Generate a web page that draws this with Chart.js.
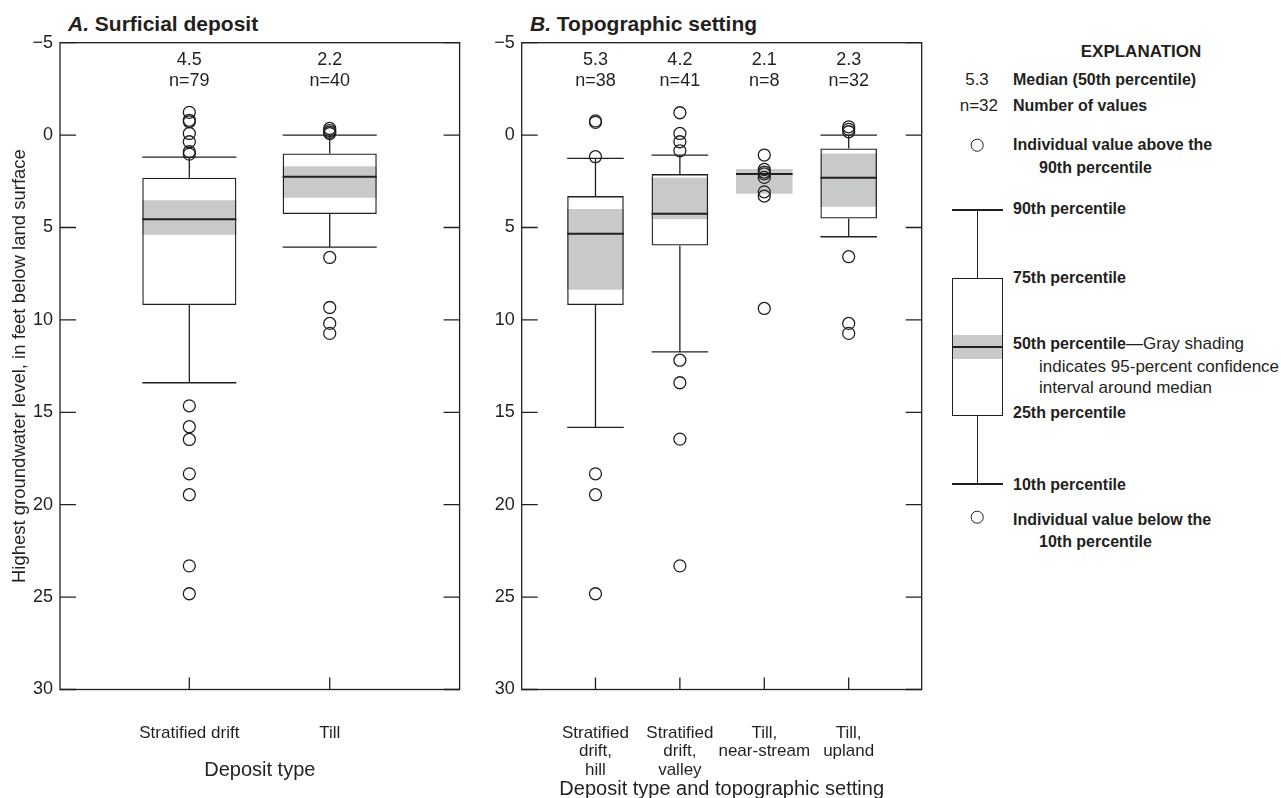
<!DOCTYPE html>
<html>
<head>
<meta charset="utf-8">
<script src="https://cdn.jsdelivr.net/npm/chart.js"></script>
<style>
  html, body { margin: 0; padding: 0; background: #fff; }
  body { width: 1281px; height: 798px; position: relative; overflow: hidden;
         font-family: "Liberation Sans", Arial, sans-serif; color: #231f20; }
  canvas { position: absolute; top: 0; }
  .ttl { position: absolute; top: 13px; font-weight: bold; font-size: 21px; line-height: 21px; white-space: nowrap; }
  .t { position: absolute; white-space: nowrap; line-height: 1.15; font-size: 17px; transform: translateY(-50%); }
  .b { font-weight: bold; font-size: 16px; }
  .ln { position: absolute; background: #231f20; }
  .ring { position: absolute; box-sizing: border-box; width: 12.6px; height: 12.6px;
          border: 1.3px solid #231f20; border-radius: 50%; transform: translate(-50%, -50%); }
</style>
</head>
<body>
<div class="ttl" style="left:68px"><i>A.</i> Surficial deposit</div>
<div class="ttl" style="left:530px"><i>B.</i> Topographic setting</div>

<canvas id="chartA" width="470" height="798" style="left:0"></canvas>
<canvas id="chartB" width="460" height="798" style="left:470px"></canvas>

<!-- explanation -->
<div class="t b" style="left:1141px;top:52px;font-size:17px;transform:translate(-50%,-50%)">EXPLANATION</div>
<div class="t" style="left:977px;top:80px;transform:translate(-50%,-50%)">5.3</div>
<div class="t b" style="left:1013px;top:80px">Median (50th percentile)</div>
<div class="t" style="left:998px;top:106px;transform:translate(-100%,-50%)">n=32</div>
<div class="t b" style="left:1013px;top:106px">Number of values</div>
<div class="ring" style="left:977px;top:145px"></div>
<div class="t b" style="left:1013px;top:145px">Individual value above the</div>
<div class="t b" style="left:1039px;top:168px">90th percentile</div>

<div class="ln" style="left:951.7px;top:209.4px;width:51.6px;height:1.3px"></div>
<div class="t b" style="left:1013px;top:209px">90th percentile</div>
<div class="ln" style="left:976.7px;top:210px;width:1.3px;height:68.5px"></div>
<div style="position:absolute;box-sizing:border-box;left:951.7px;top:278px;width:51.6px;height:137.5px;border:1.3px solid #231f20"></div>
<div style="position:absolute;left:953px;top:335px;width:49px;height:24.3px;background:#c8c9cb"></div>
<div class="ln" style="left:953px;top:345.8px;width:49px;height:2px"></div>
<div class="t b" style="left:1013px;top:278px">75th percentile</div>
<div class="t" style="left:1013px;top:344px"><b style="font-size:16px">50th percentile</b>—Gray shading</div>
<div class="t" style="left:1039px;top:367px">indicates 95-percent confidence</div>
<div class="t" style="left:1039px;top:388px">interval around median</div>
<div class="t b" style="left:1013px;top:413px">25th percentile</div>
<div class="ln" style="left:976.7px;top:415px;width:1.3px;height:69px"></div>
<div class="ln" style="left:951.7px;top:483.4px;width:51.6px;height:1.3px"></div>
<div class="t b" style="left:1013px;top:485px">10th percentile</div>
<div class="ring" style="left:977px;top:517px"></div>
<div class="t b" style="left:1013px;top:520px">Individual value below the</div>
<div class="t b" style="left:1039px;top:542px">10th percentile</div>

<script>
// ---- shared axis ----
const yTicks = [-5, 0, 5, 10, 15, 20, 25, 30];

// ---- A. Surficial deposit (feet below land surface) ----
const catsA = ['Stratified drift', 'Till'];
const countA = [79, 40];
const medLabelA = ['4.5', '2.2'];
const whiskTopA = [1.19, 0.0];
const boxTopA = [2.31, 0.99];
const ciTopA = [3.52, 1.68];
const medianA = [4.55, 2.25];
const ciBotA = [5.39, 3.39];
const boxBotA = [9.2, 4.27];
const whiskBotA = [13.4, 6.06];
const outA = [
  [-1.23, -0.8, -0.72, -0.09, 0.36, 0.9, 1.03, 14.65, 15.78, 16.47, 18.33, 19.46, 23.31, 24.82],
  [-0.36, -0.24, -0.15, -0.08, 6.62, 9.33, 10.19, 10.73]
];

// ---- B. Topographic setting ----
const catsB = [['Stratified', 'drift,', 'hill'], ['Stratified', 'drift,', 'valley'], ['Till,', 'near-stream'], ['Till,', 'upland']];
const countB = [38, 41, 8, 32];
const medLabelB = ['5.3', '4.2', '2.1', '2.3'];
const whiskTopB = [1.26, 1.08, null, 0.0];
const boxTopB = [3.3, 2.11, null, 0.72];
const ciTopB = [4.0, 2.31, 1.84, 0.99];
const medianB = [5.34, 4.26, 2.11, 2.31];
const ciBotB = [8.37, 4.56, 3.18, 3.88];
const boxBotB = [9.2, 5.97, null, 4.51];
const whiskBotB = [15.82, 11.73, null, 5.5];
const outB = [
  [-0.77, -0.69, 1.17, 18.33, 19.46, 24.82],
  [-1.21, -0.09, 0.36, 0.85, 12.18, 13.4, 16.45, 23.31],
  [1.08, 1.86, 2.0, 2.1, 2.29, 3.07, 3.3, 9.38],
  [-0.45, -0.31, -0.18, 6.58, 10.19, 10.73]
];

const ink = '#231f20';
const ciGray = '#c8c9cb';
Chart.defaults.font.family = '"Liberation Sans", Arial, sans-serif';
Chart.defaults.color = ink;

function boxPlugin(p) {
  return {
    id: 'boxPlot',
    afterDatasetsDraw(chart) {
      const { ctx, chartArea: a, scales: { x, y } } = chart;
      const ciMeta = chart.getDatasetMeta(0);
      ctx.save();
      ctx.strokeStyle = ink;
      ctx.lineWidth = 1.3;
      ctx.lineCap = 'butt';
      // whiskers and caps
      p.boxTop.forEach((t, i) => {
        if (t == null) return;
        const px = x.getPixelForValue(i + 1);
        const hw = ciMeta.data[i].width / 2;
        const ends = [[p.boxTop[i], p.whiskTop[i]], [p.boxBot[i], p.whiskBot[i]]];
        ends.forEach(([from, to]) => {
          const y0 = y.getPixelForValue(from), y1 = y.getPixelForValue(to);
          ctx.beginPath();
          ctx.moveTo(px, y0); ctx.lineTo(px, y1);
          ctx.moveTo(px - hw, y1); ctx.lineTo(px + hw, y1);
          ctx.stroke();
        });
      });
      // medians
      ctx.lineWidth = 2;
      p.median.forEach((m, i) => {
        const px = x.getPixelForValue(i + 1);
        const hw = ciMeta.data[i].width / 2;
        const py = y.getPixelForValue(m);
        ctx.beginPath();
        ctx.moveTo(px - hw, py); ctx.lineTo(px + hw, py);
        ctx.stroke();
      });
      // frame
      ctx.lineWidth = 1.3;
      ctx.strokeRect(a.left, a.top, a.right - a.left, a.bottom - a.top);
      // inward ticks
      ctx.beginPath();
      y.ticks.forEach(t => {
        const py = y.getPixelForValue(t.value);
        ctx.moveTo(a.left, py); ctx.lineTo(a.left + 16, py);
        ctx.moveTo(a.right - 16, py); ctx.lineTo(a.right, py);
      });
      x.ticks.forEach(t => {
        const px = x.getPixelForValue(t.value);
        ctx.moveTo(px, a.bottom); ctx.lineTo(px, a.bottom - 12);
      });
      ctx.stroke();
      // median value and count above each group
      ctx.fillStyle = ink;
      ctx.font = '18px "Liberation Sans", Arial, sans-serif';
      ctx.textAlign = 'center';
      ctx.textBaseline = 'middle';
      p.medLabel.forEach((lab, i) => {
        const px = x.getPixelForValue(i + 1);
        ctx.fillText(lab, px, 60);
        ctx.fillText('n=' + p.count[i], px, 81);
      });
      ctx.restore();
    }
  };
}

function makePanel(id, p, geo) {
  const pts = [];
  p.out.forEach((vals, i) => vals.forEach(v => pts.push({ x: i + 1, y: v })));
  return new Chart(document.getElementById(id), {
    type: 'bar',
    data: {
      datasets: [
        {
          label: 'ci',
          data: p.ciTop.map((t, i) => ({ x: i + 1, y: [t, p.ciBot[i]] })),
          backgroundColor: ciGray,
          borderWidth: 0,
          grouped: false,
          barPercentage: 0.67,
          categoryPercentage: 1,
          order: 2
        },
        {
          label: 'box',
          data: p.boxTop.map((t, i) => t == null ? null : ({ x: i + 1, y: [t, p.boxBot[i]] })).filter(d => d),
          backgroundColor: 'rgba(0,0,0,0)',
          borderColor: ink,
          borderWidth: 1.3,
          borderSkipped: false,
          grouped: false,
          barPercentage: 0.67,
          categoryPercentage: 1,
          order: 1
        },
        {
          type: 'scatter',
          label: 'out',
          data: pts,
          pointRadius: 6,
          pointHoverRadius: 6,
          pointBorderWidth: 1.3,
          pointBorderColor: ink,
          pointBackgroundColor: 'rgba(0,0,0,0)',
          order: 0
        }
      ]
    },
    options: {
      responsive: false,
      devicePixelRatio: 1,
      animation: false,
      events: [],
      layout: { padding: { top: 42.7, left: 0, right: geo.padRight, bottom: 0 } },
      plugins: { legend: { display: false }, tooltip: { enabled: false } },
      scales: {
        x: {
          type: 'linear',
          offset: false,
          min: geo.xMin,
          max: geo.xMax,
          grid: { display: false, drawTicks: false, tickLength: 0 },
          border: { display: false },
          afterBuildTicks: s => { s.ticks = p.cats.map((c, i) => ({ value: i + 1 })); },
          afterFit: s => { s.height = 108.5; s.paddingLeft = 0; s.paddingRight = 0; },
          ticks: {
            autoSkip: false,
            maxRotation: 0,
            padding: 34,
            font: { size: 17, lineHeight: 1.1 },
            callback: v => p.cats[v - 1]
          },
          title: {
            display: true,
            text: p.xTitle,
            font: { size: 20 },
            padding: { top: 0, bottom: geo.xTitlePad }
          }
        },
        y: {
          type: 'linear',
          reverse: true,
          min: -5,
          max: 30,
          grid: { display: false, drawTicks: false, tickLength: 0 },
          border: { display: false },
          afterBuildTicks: s => { s.ticks = yTicks.map(v => ({ value: v })); },
          afterFit: s => { s.width = geo.yWidth; s.paddingTop = 0; s.paddingBottom = 0; },
          ticks: {
            padding: 7,
            font: { size: 18 },
            callback: v => v < 0 ? '\u2212' + (-v) : String(v)
          },
          title: {
            display: !!p.yTitle,
            text: p.yTitle,
            font: { size: 18.5 },
            padding: { top: 9, bottom: 0 }
          }
        }
      }
    },
    plugins: [boxPlugin(p)]
  });
}

makePanel('chartA', {
  cats: catsA, count: countA, medLabel: medLabelA,
  whiskTop: whiskTopA, boxTop: boxTopA, ciTop: ciTopA, median: medianA,
  ciBot: ciBotA, boxBot: boxBotA, whiskBot: whiskBotA, out: outA,
  xTitle: 'Deposit type',
  yTitle: 'Highest groundwater level, in feet below land surface'
}, { padRight: 10.4, xMin: 0.079, xMax: 2.925, yWidth: 60, xTitlePad: 16 });

makePanel('chartB', {
  cats: catsB, count: countB, medLabel: medLabelB,
  whiskTop: whiskTopB, boxTop: boxTopB, ciTop: ciTopB, median: medianB,
  ciBot: ciBotB, boxBot: boxBotB, whiskBot: whiskBotB, out: outB,
  xTitle: 'Deposit type and topographic setting',
  yTitle: ''
}, { padRight: 8.3, xMin: 0.126, xMax: 4.865, yWidth: 51.7, xTitlePad: -3 });
</script>
</body>
</html>
